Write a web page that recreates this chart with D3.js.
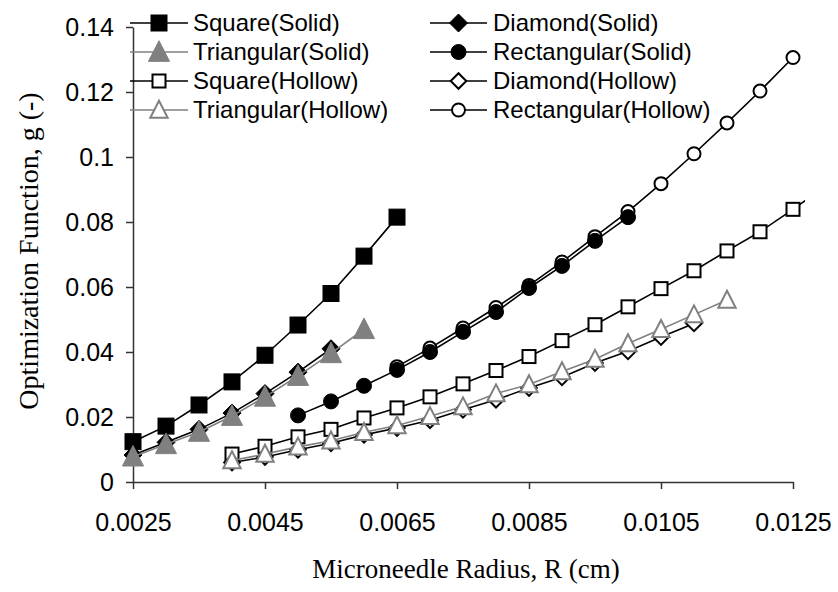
<!DOCTYPE html>
<html>
<head>
<meta charset="utf-8">
<script src="https://cdn.jsdelivr.net/npm/d3@7"></script>
<style>
  html, body { margin: 0; padding: 0; background: #fff; }
  svg { display: block; }
</style>
</head>
<body>
<svg id="chart" width="838" height="592"></svg>
<script>
// ---------- data ----------
const xTicks = [0.0025, 0.0045, 0.0065, 0.0085, 0.0105, 0.0125];
const xTickLabels = ["0.0025", "0.0045", "0.0065", "0.0085", "0.0105", "0.0125"];
const yTicks = [0, 0.02, 0.04, 0.06, 0.08, 0.1, 0.12, 0.14];
const yTickLabels = ["0", "0.02", "0.04", "0.06", "0.08", "0.1", "0.12", "0.14"];

const squareSolidR = [0.0025, 0.003, 0.0035, 0.004, 0.0045, 0.005, 0.0055, 0.006, 0.0065];
const squareSolidG = [0.0124, 0.0172, 0.0237, 0.0308, 0.0390, 0.0483, 0.0580, 0.0695, 0.0815];

const diamondSolidR = [0.0025, 0.003, 0.0035, 0.004, 0.0045, 0.005, 0.0055];
const diamondSolidG = [0.0083, 0.0122, 0.0162, 0.0212, 0.0272, 0.0338, 0.0410];

const triangularSolidR = [0.0025, 0.003, 0.0035, 0.004, 0.0045, 0.005, 0.0055, 0.006];
const triangularSolidG = [0.0078, 0.0116, 0.0154, 0.0203, 0.0262, 0.0326, 0.0396, 0.0470];

const rectangularSolidR = [0.005, 0.0055, 0.006, 0.0065, 0.007, 0.0075, 0.008, 0.0085, 0.009, 0.0095, 0.010];
const rectangularSolidG = [0.0205, 0.0248, 0.0296, 0.0345, 0.0400, 0.0462, 0.0523, 0.0597, 0.0665, 0.0742, 0.0815];

const squareHollowR = [0.004, 0.0045, 0.005, 0.0055, 0.006, 0.0065, 0.007, 0.0075, 0.008, 0.0085, 0.009, 0.0095, 0.010, 0.0105, 0.011, 0.0115, 0.012, 0.0125, 0.013];
const squareHollowG = [0.0086, 0.0110, 0.0139, 0.0162, 0.0197, 0.0228, 0.0262, 0.0302, 0.0343, 0.0386, 0.0435, 0.0484, 0.0539, 0.0595, 0.0650, 0.0711, 0.0770, 0.0839, 0.0912];

const diamondHollowR = [0.004, 0.0045, 0.005, 0.0055, 0.006, 0.0065, 0.007, 0.0075, 0.008, 0.0085, 0.009, 0.0095, 0.010, 0.0105, 0.011];
const diamondHollowG = [0.0060, 0.0077, 0.0099, 0.0119, 0.0145, 0.0166, 0.0190, 0.0222, 0.0253, 0.0289, 0.0322, 0.0366, 0.0402, 0.0446, 0.0488];

const triangularHollowR = [0.004, 0.0045, 0.005, 0.0055, 0.006, 0.0065, 0.007, 0.0075, 0.008, 0.0085, 0.009, 0.0095, 0.010, 0.0105, 0.011, 0.0115];
const triangularHollowG = [0.0066, 0.0086, 0.0108, 0.0127, 0.0153, 0.0174, 0.0202, 0.0232, 0.0272, 0.0300, 0.0340, 0.0378, 0.0426, 0.0470, 0.0515, 0.0560];

const rectangularHollowR = [0.0065, 0.007, 0.0075, 0.008, 0.0085, 0.009, 0.0095, 0.010, 0.0105, 0.011, 0.0115, 0.012, 0.0125];
const rectangularHollowG = [0.0355, 0.0412, 0.0474, 0.0537, 0.0605, 0.0677, 0.0755, 0.0832, 0.0918, 0.1010, 0.1105, 0.1203, 0.1306];

const seriesNames = ["Square(Solid)", "Diamond(Solid)", "Triangular(Solid)", "Rectangular(Solid)",
                     "Square(Hollow)", "Diamond(Hollow)", "Triangular(Hollow)", "Rectangular(Hollow)"];

// ---------- styles ----------
const GRAY = "#808080";
const series = [
  { name: seriesNames[0], r: squareSolidR, g: squareSolidG, shape: "square", color: "#000", fill: "#000" },
  { name: seriesNames[1], r: diamondSolidR, g: diamondSolidG, shape: "diamond", color: "#000", fill: "#000" },
  { name: seriesNames[2], r: triangularSolidR, g: triangularSolidG, shape: "triangle", color: GRAY, fill: GRAY },
  { name: seriesNames[4], r: squareHollowR, g: squareHollowG, shape: "square", color: "#000", fill: "#fff" },
  { name: seriesNames[5], r: diamondHollowR, g: diamondHollowG, shape: "diamond", color: "#000", fill: "#fff" },
  { name: seriesNames[6], r: triangularHollowR, g: triangularHollowG, shape: "triangle", color: GRAY, fill: "#fff" },
  { name: seriesNames[7], r: rectangularHollowR, g: rectangularHollowG, shape: "circle", color: "#000", fill: "#fff" },
  { name: seriesNames[3], r: rectangularSolidR, g: rectangularSolidG, shape: "circle", color: "#000", fill: "#000" }
];
const byName = {};
series.forEach(s => byName[s.name] = s);

// ---------- scales ----------
const svg = d3.select("#chart");
const x = d3.scaleLinear().domain([0.0025, 0.0125]).range([133, 793]);
const y = d3.scaleLinear().domain([0, 0.14]).range([482, 27]);

const tickFont = "'Liberation Sans', Arial, sans-serif";
const titleFont = "'Liberation Serif', 'Times New Roman', serif";

svg.append("defs").append("clipPath").attr("id", "plotClip")
  .append("rect").attr("x", 100).attr("y", 0).attr("width", 805 - 100).attr("height", 500);

// ---------- axes ----------
const xAxis = d3.axisBottom(x).tickValues(xTicks).tickFormat((d, i) => xTickLabels[i]).tickSizeInner(7).tickSizeOuter(0).tickPadding(24);
const yAxis = d3.axisLeft(y).tickValues(yTicks).tickFormat((d, i) => yTickLabels[i]).tickSizeInner(7).tickSizeOuter(0).tickPadding(12);

const gx = svg.append("g").attr("transform", `translate(0,${y(0)})`).call(xAxis);
const gy = svg.append("g").attr("transform", `translate(${x(0.0025)},0)`).call(yAxis);
[gx, gy].forEach(g => {
  g.select(".domain").attr("stroke", "#333").attr("stroke-width", 1.5);
  g.selectAll(".tick line").attr("stroke", "#333").attr("stroke-width", 1.5);
  g.selectAll(".tick text").attr("font-family", tickFont).attr("font-size", 25).attr("fill", "#000");
});
gy.selectAll(".tick text").attr("dy", "0.35em");

// ---------- marker drawing ----------
function drawMarker(sel, shape, size, stroke, fill, sw) {
  if (shape === "square") {
    sel.append("rect").attr("x", -size / 2).attr("y", -size / 2).attr("width", size).attr("height", size)
      .attr("fill", fill).attr("stroke", stroke).attr("stroke-width", sw);
  } else if (shape === "diamond") {
    const h = size * 0.6;
    sel.append("path").attr("d", `M0,${-h}L${h},0L0,${h}L${-h},0Z`)
      .attr("fill", fill).attr("stroke", stroke).attr("stroke-width", sw);
  } else if (shape === "triangle") {
    const w = size * 0.62, ht = size * 1.1;
    sel.append("path").attr("d", `M0,${-ht * 0.6}L${w},${ht * 0.5}L${-w},${ht * 0.5}Z`)
      .attr("fill", fill).attr("stroke", stroke).attr("stroke-width", sw);
  } else {
    sel.append("circle").attr("r", size / 2)
      .attr("fill", fill).attr("stroke", stroke).attr("stroke-width", sw);
  }
}
function markerSize(s) {
  const solid = s.fill !== "#fff";
  if (s.shape === "square") return solid ? 16 : 13;
  if (s.shape === "diamond") return solid ? 15 : 13;
  if (s.shape === "triangle") return solid ? 17 : 14;
  return solid ? 15 : 13;
}

// ---------- series ----------
const line = d3.line().x(d => x(d[0])).y(d => y(d[1]));
series.forEach(s => {
  const pts = s.r.map((r, i) => [r, s.g[i]]);
  svg.append("path").datum(pts).attr("d", line).attr("fill", "none")
    .attr("stroke", s.color).attr("stroke-width", 1.6).attr("clip-path", "url(#plotClip)");
  const g = svg.append("g");
  pts.filter(p => p[0] <= 0.0125 + 1e-9).forEach(p => {
    const m = g.append("g").attr("transform", `translate(${x(p[0])},${y(p[1])})`);
    drawMarker(m, s.shape, markerSize(s), s.color, s.fill, s.fill === "#fff" ? 2 : 1);
  });
});

// ---------- legend ----------
const legendRows = [23, 52, 81, 110];
const legendCols = [{ x0: 130, x1: 188, tx: 193 }, { x0: 430, x1: 487, tx: 493 }];
seriesNames.forEach((name, i) => {
  const s = byName[name];
  const col = legendCols[i % 2], ry = legendRows[Math.floor(i / 2)];
  const lg = svg.append("g");
  lg.append("line").attr("x1", col.x0).attr("x2", col.x1).attr("y1", ry).attr("y2", ry)
    .attr("stroke", s.color).attr("stroke-width", 1.6);
  const m = lg.append("g").attr("transform", `translate(${(col.x0 + col.x1) / 2},${ry})`);
  drawMarker(m, s.shape, markerSize(s), s.color, s.fill, s.fill === "#fff" ? 2 : 1);
  lg.append("text").attr("x", col.tx).attr("y", ry).attr("dy", "0.35em")
    .attr("font-family", tickFont).attr("font-size", 24).attr("fill", "#000").text(name);
});

// ---------- titles ----------
svg.append("text").attr("x", 466).attr("y", 578).attr("text-anchor", "middle")
  .attr("font-family", titleFont).attr("font-size", 27).attr("fill", "#000")
  .text("Microneedle Radius, R (cm)");
svg.append("text").attr("transform", "translate(38,251) rotate(-90)").attr("text-anchor", "middle")
  .attr("font-family", titleFont).attr("font-size", 28).attr("fill", "#000")
  .text("Optimization Function, g (-)");
</script>
</body>
</html>
